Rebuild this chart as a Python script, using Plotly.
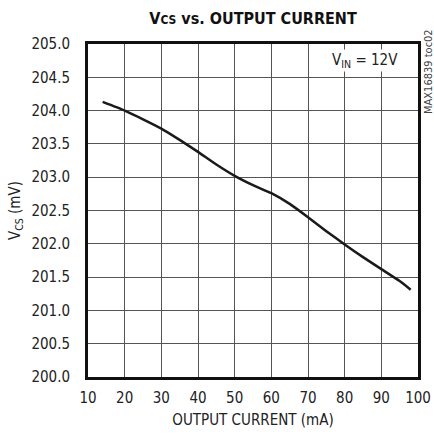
import plotly.graph_objects as go

current_ma = [14, 20, 25, 30, 35, 40, 45, 50, 55, 60, 65, 70, 75, 80, 85, 90, 95, 98]
vcs_mv = [204.13, 204.0, 203.87, 203.73, 203.56, 203.38, 203.19, 203.02, 202.88, 202.76,
          202.6, 202.4, 202.19, 201.99, 201.8, 201.62, 201.44, 201.31]

x_ticks = [10, 20, 30, 40, 50, 60, 70, 80, 90, 100]
y_ticks = [200.0, 200.5, 201.0, 201.5, 202.0, 202.5, 203.0, 203.5, 204.0, 204.5, 205.0]
y_tick_text = [f"{v:.1f}" for v in y_ticks]

FONT = "DejaVu Sans Condensed, Liberation Sans Narrow, sans-serif"

fig = go.Figure()
fig.add_trace(go.Scatter(x=current_ma, y=vcs_mv, mode="lines",
                         line=dict(color="#1a1a1a", width=2.5, shape="spline", smoothing=0.6),
                         showlegend=False, hoverinfo="skip"))

fig.update_layout(
    width=434, height=436,
    margin=dict(l=88, r=16, t=44, b=59),
    paper_bgcolor="white", plot_bgcolor="white",
    font=dict(family=FONT, size=15, color="#222"),
    title=dict(text="<b>V<span style='font-size:12px'>CS</span> vs. OUTPUT CURRENT</b>",
               x=253/434, xanchor="center", y=1 - 18/436, yanchor="middle",
               font=dict(family=FONT, size=16, color="#111")),
    xaxis=dict(range=[10, 100], tickvals=x_ticks, showgrid=True, gridcolor="#555", gridwidth=1,
               showline=True, linecolor="#111", linewidth=3, mirror=True, zeroline=False,
               ticks="", ticklabelstandoff=5, automargin=False,
               title=dict(text="OUTPUT CURRENT (mA)", standoff=9, font=dict(size=15))),
    yaxis=dict(range=[200, 205], tickvals=y_ticks, ticktext=y_tick_text, showgrid=True,
               gridcolor="#555", gridwidth=1,
               showline=True, linecolor="#111", linewidth=3, mirror=True, zeroline=False,
               ticks="", ticklabelstandoff=12, automargin=False,
               title=dict(text="V<sub>CS</sub> (mV)", standoff=8, font=dict(size=15))),
)

fig.add_annotation(x=0.945, y=0.985, xref="paper", yref="paper", xanchor="right", yanchor="top",
                   text="V<sub>IN</sub> = 12V", showarrow=False,
                   font=dict(family=FONT, size=15, color="#222"), bgcolor="white")
fig.add_annotation(x=(428 - 88) / 330, y=(377 - 72) / 333, xref="paper", yref="paper",
                   xanchor="center", yanchor="middle", text="MAX16839 toc02", textangle=-90,
                   showarrow=False, font=dict(family=FONT, size=11, color="#444"))

fig.write_html("out.html", config={"displayModeBar": False},
               post_script="document.body.style.margin='0';")
